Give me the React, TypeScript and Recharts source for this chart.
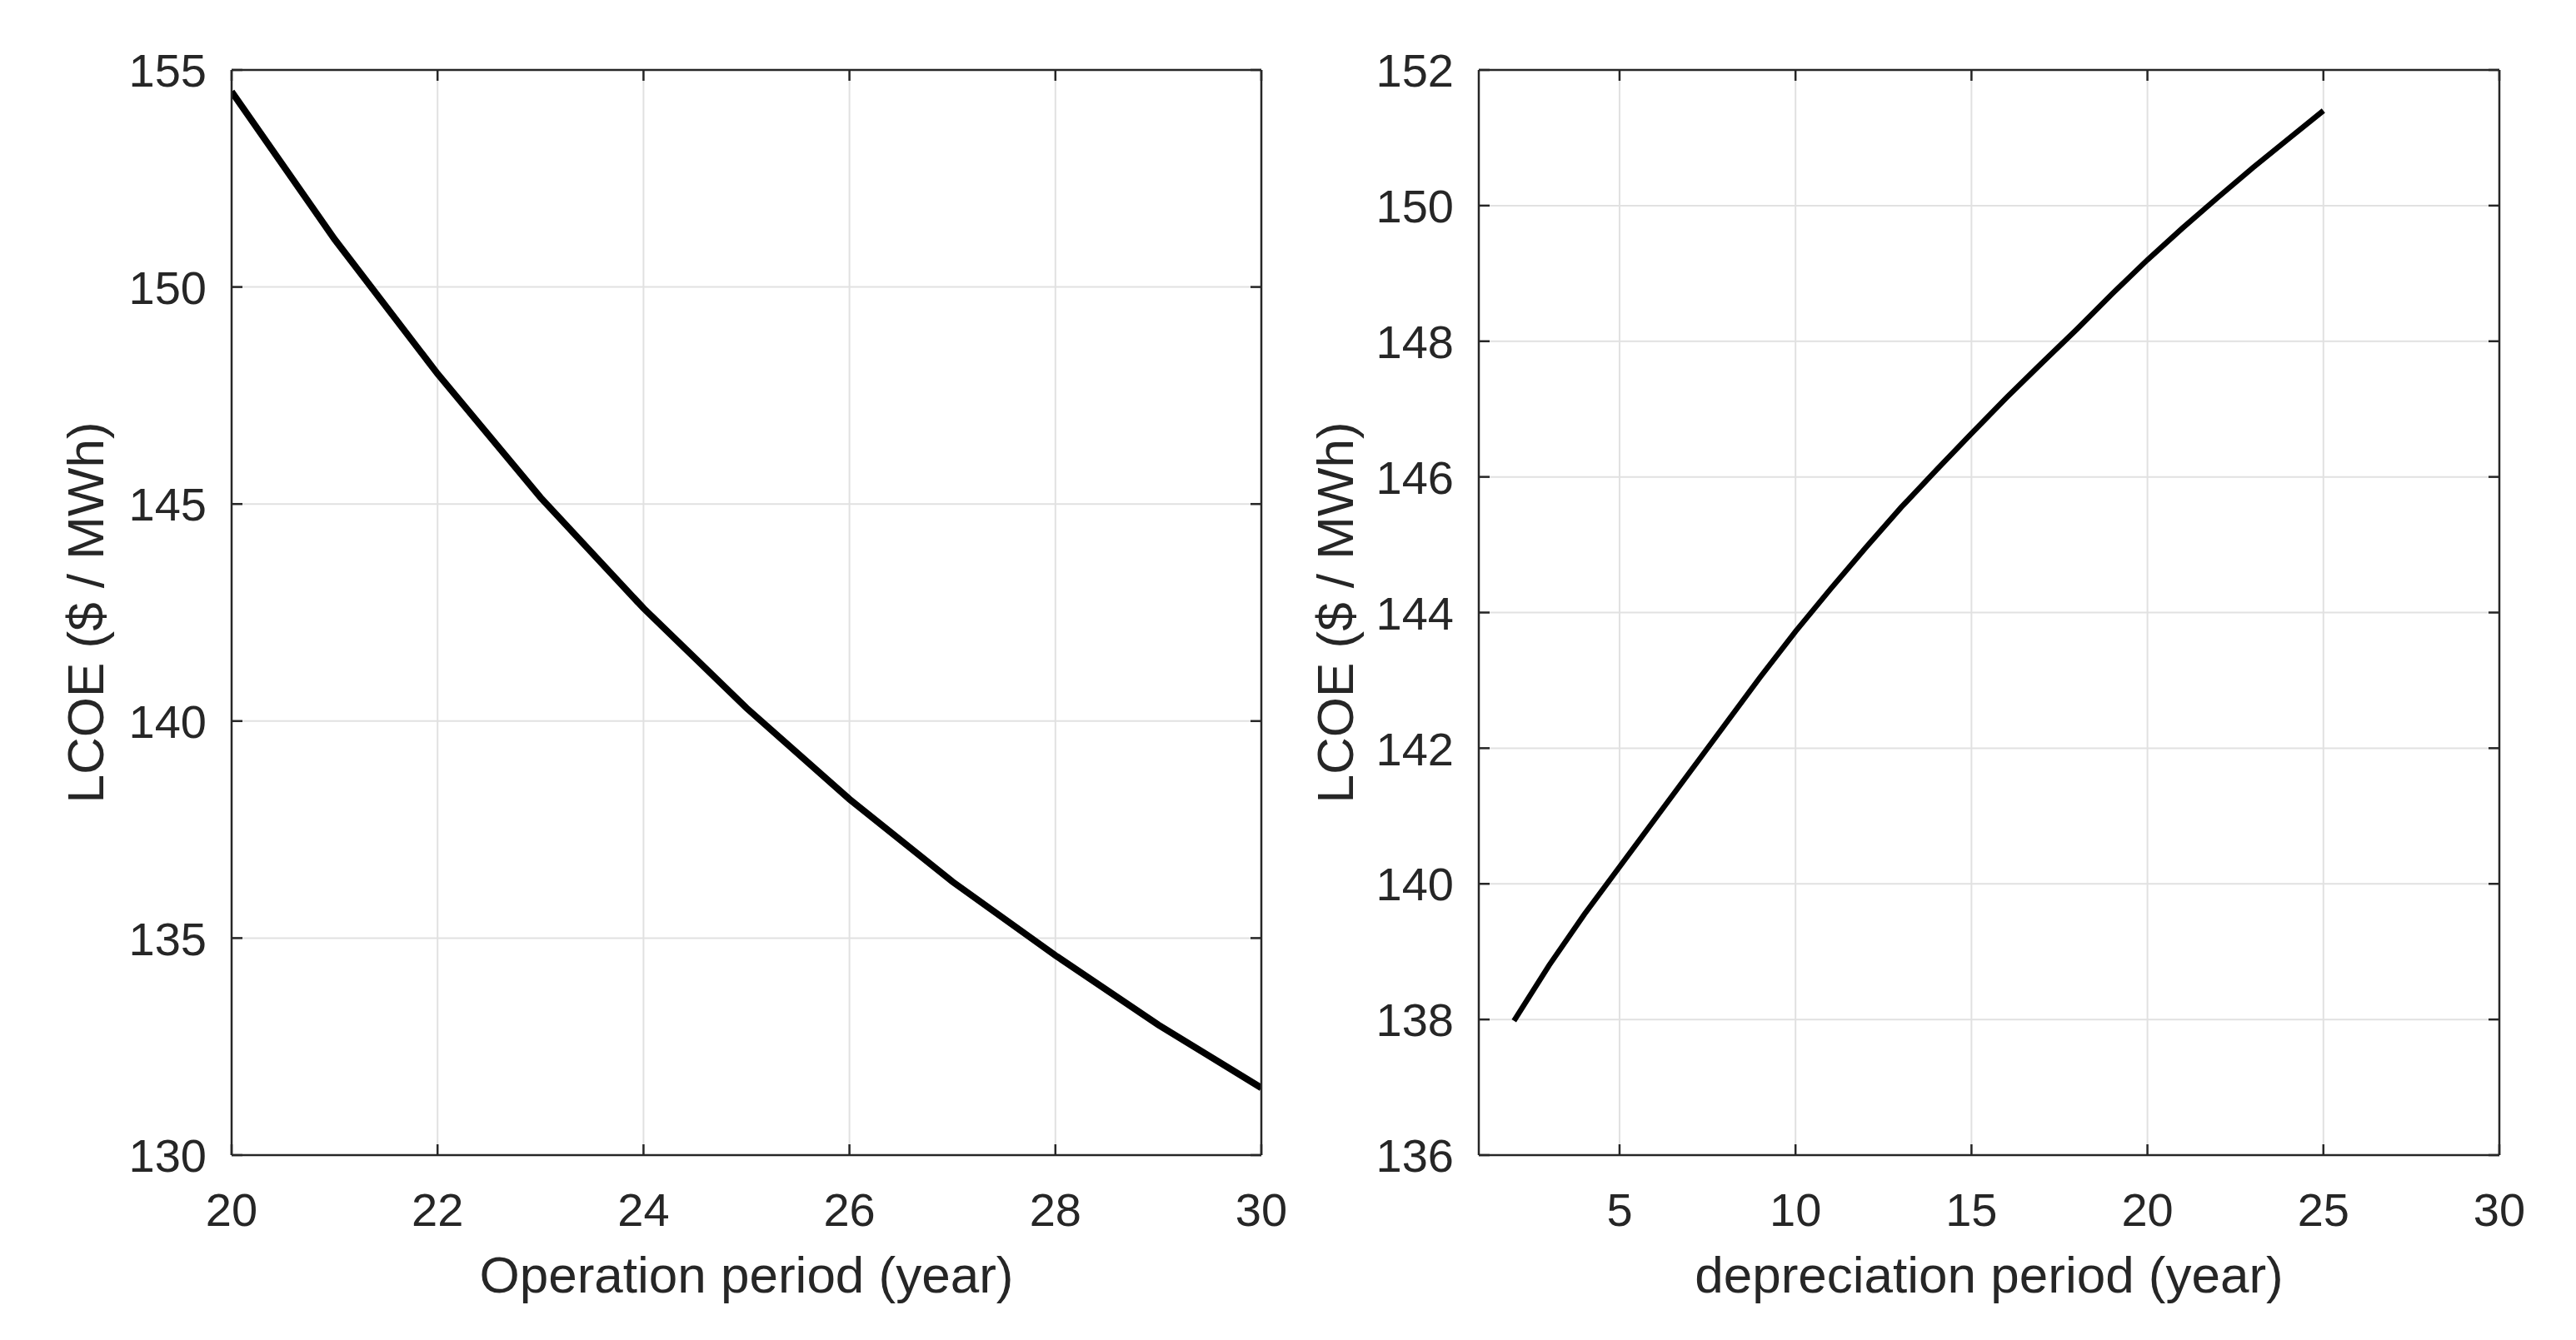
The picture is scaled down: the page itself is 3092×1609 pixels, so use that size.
import { LineChart, Line, XAxis, YAxis, CartesianGrid } from 'recharts';

// left panel: LCOE vs operation period
const operationYears = [20, 21, 22, 23, 24, 25, 26, 27, 28, 29, 30];
const operationLcoe = [154.5, 151.1, 148.0, 145.15, 142.6, 140.3, 138.2, 136.3, 134.6, 133.0, 131.55];
const operationTicks = [20, 22, 24, 26, 28, 30];
const operationLcoeTicks = [130, 135, 140, 145, 150, 155];

// right panel: LCOE vs depreciation period
const depreciationYears = [2, 3, 4, 5, 6, 7, 8, 9, 10, 11, 12, 13, 14, 15, 16, 17, 18, 19, 20, 21, 22, 23, 24, 25];
const depreciationLcoe = [
  137.98, 138.8, 139.55, 140.25, 140.95, 141.65, 142.35, 143.05, 143.72, 144.35, 144.96, 145.55,
  146.1, 146.64, 147.17, 147.68, 148.18, 148.7, 149.2, 149.67, 150.12, 150.56, 150.98, 151.4,
];
const depreciationTicks = [5, 10, 15, 20, 25, 30];
const depreciationLcoeTicks = [136, 138, 140, 142, 144, 146, 148, 150, 152];

const FONT = '"Liberation Sans", Arial, Helvetica, sans-serif';
const INK = '#262626';
const TICK_FONT = 56;
const LABEL_FONT = 62;
const TICK_LEN = 13;
const X_GAP = 45;
const Y_GAP = 30;
const PLOT_TOP = 84;
const PLOT_BOTTOM = 1387;
const H = 1609;

// MATLAB-style ticks: the little mark points into the plot box
function BottomTick(props: any) {
  const { x, y, payload } = props;
  const axisY = y - X_GAP;
  return (
    <g>
      <line x1={x} x2={x} y1={axisY} y2={axisY - TICK_LEN} stroke={INK} strokeWidth={2.5} />
      <text x={x} y={y} dy="0.71em" textAnchor="middle" fontSize={TICK_FONT} fill={INK} fontFamily={FONT}>
        {payload.value}
      </text>
    </g>
  );
}

function TopTick(props: any) {
  const { x, y } = props;
  return <line x1={x} x2={x} y1={y} y2={y + TICK_LEN} stroke={INK} strokeWidth={2.5} />;
}

function LeftTick(props: any) {
  const { x, y, payload } = props;
  const axisX = x + Y_GAP;
  return (
    <g>
      <line x1={axisX} x2={axisX + TICK_LEN} y1={y} y2={y} stroke={INK} strokeWidth={2.5} />
      <text x={x} y={y} dy="0.36em" textAnchor="end" fontSize={TICK_FONT} fill={INK} fontFamily={FONT}>
        {payload.value}
      </text>
    </g>
  );
}

function RightTick(props: any) {
  const { x, y } = props;
  return <line x1={x} x2={x - TICK_LEN} y1={y} y2={y} stroke={INK} strokeWidth={2.5} />;
}

interface PanelProps {
  left: number;
  xs: number[];
  ys: number[];
  xDomain: [number, number];
  yDomain: [number, number];
  xTicks: number[];
  yTicks: number[];
  xLabel: string;
  yAxisWidth: number;
  yLabelX: number;
  marginRight: number;
  lineWidth: number;
}

function Panel(p: PanelProps) {
  const data = p.xs.map((x, i) => ({ x, y: p.ys[i] }));
  return (
    <div style={{ position: 'absolute', left: p.left, top: 0 }}>
      <LineChart
        width={1546}
        height={H}
        data={data}
        margin={{ top: PLOT_TOP - 1, right: p.marginRight - 1, bottom: 0, left: 0 }}
      >
        <CartesianGrid xAxisId="b" yAxisId="l" stroke="#e1e1e1" strokeWidth={2} />
        <XAxis
          xAxisId="b"
          type="number"
          dataKey="x"
          domain={p.xDomain}
          ticks={p.xTicks}
          allowDataOverflow
          height={H - PLOT_BOTTOM}
          stroke={INK}
          strokeWidth={2.5}
          tickLine={false}
          tickSize={0}
          tickMargin={X_GAP}
          tick={<BottomTick />}
          label={{
            value: p.xLabel,
            position: 'insideTop',
            offset: 121,
            style: { fontSize: LABEL_FONT, fill: INK, fontFamily: FONT },
          }}
        />
        <XAxis
          xAxisId="t"
          orientation="top"
          type="number"
          dataKey="x"
          domain={p.xDomain}
          ticks={p.xTicks}
          allowDataOverflow
          height={1}
          stroke={INK}
          strokeWidth={2.5}
          tickLine={false}
          tickSize={0}
          tickMargin={0}
          tick={<TopTick />}
        />
        <YAxis
          yAxisId="l"
          type="number"
          domain={p.yDomain}
          ticks={p.yTicks}
          allowDataOverflow
          width={p.yAxisWidth}
          stroke={INK}
          strokeWidth={2.5}
          tickLine={false}
          tickSize={0}
          tickMargin={Y_GAP}
          tick={<LeftTick />}
          label={{
            value: 'LCOE ($ / MWh)',
            angle: -90,
            position: 'insideLeft',
            offset: p.yLabelX,
            style: { fontSize: LABEL_FONT, fill: INK, fontFamily: FONT, textAnchor: 'middle' },
          }}
        />
        <YAxis
          yAxisId="r"
          orientation="right"
          type="number"
          domain={p.yDomain}
          ticks={p.yTicks}
          allowDataOverflow
          width={1}
          stroke={INK}
          strokeWidth={2.5}
          tickLine={false}
          tickSize={0}
          tickMargin={0}
          tick={<RightTick />}
        />
        <Line
          xAxisId="b"
          yAxisId="l"
          type="linear"
          dataKey="y"
          stroke="#000"
          strokeWidth={p.lineWidth}
          dot={false}
          isAnimationActive={false}
        />
      </LineChart>
    </div>
  );
}

export default function App() {
  return (
    <div
      style={{
        position: 'absolute',
        left: 0,
        top: 0,
        width: 3092,
        height: H,
        background: '#fff',
        fontFamily: FONT,
      }}
    >
      <Panel
        left={0}
        xs={operationYears}
        ys={operationLcoe}
        xDomain={[20, 30]}
        yDomain={[130, 155]}
        xTicks={operationTicks}
        yTicks={operationLcoeTicks}
        xLabel="Operation period (year)"
        yAxisWidth={278}
        yLabelX={102}
        marginRight={32}
        lineWidth={8}
      />
      <Panel
        left={1546}
        xs={depreciationYears}
        ys={depreciationLcoe}
        xDomain={[1, 30]}
        yDomain={[136, 152]}
        xTicks={depreciationTicks}
        yTicks={depreciationLcoeTicks}
        xLabel="depreciation period (year)"
        yAxisWidth={229}
        yLabelX={56}
        marginRight={92}
        lineWidth={6.5}
      />
    </div>
  );
}
